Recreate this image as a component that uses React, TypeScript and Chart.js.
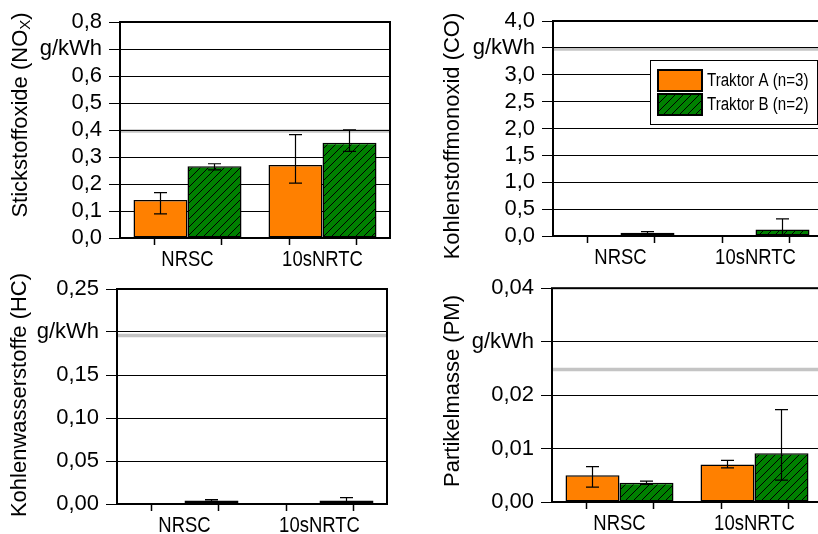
import React, { useEffect, useRef } from 'react';
import { Chart, registerables } from 'chart.js';

Chart.register(...registerables);

// ---------- data ----------
const categories = ['NRSC', '10sNRTC'];
const seriesLabels = ['Traktor A (n=3)', 'Traktor B (n=2)'];

// NOx
const noxA = [0.141, 0.27];
const noxALow = [0.089, 0.203];
const noxAHigh = [0.168, 0.383];
const noxB = [0.266, 0.353];
const noxBLow = [0.252, 0.321];
const noxBHigh = [0.275, 0.401];
const noxTicks = [0, 0.1, 0.2, 0.3, 0.4, 0.5, 0.6, 0.7, 0.8];
const noxUnitTick = 0.7;
const noxLimit = 0.4;

// CO
const coA = [0.005, 0.02];
const coALow = [0.005, 0.02];
const coAHigh = [0.005, 0.02];
const coB = [0.06, 0.12];
const coBLow = [0.045, 0.0];
const coBHigh = [0.08, 0.32];
const coTicks = [0, 0.5, 1.0, 1.5, 2.0, 2.5, 3.0, 3.5, 4.0];
const coUnitTick = 3.5;
const coLimit = 3.5;

// HC
const hcA = [0.0005, 0.0003];
const hcALow = [0.0005, 0.0003];
const hcAHigh = [0.0005, 0.0003];
const hcB = [0.004, 0.004];
const hcBLow = [0.003, 0.001];
const hcBHigh = [0.005, 0.0073];
const hcTicks = [0, 0.05, 0.1, 0.15, 0.2, 0.25];
const hcUnitTick = 0.2;
const hcLimit = 0.197;

// PM
const pmA = [0.005, 0.007];
const pmALow = [0.0028, 0.0064];
const pmAHigh = [0.0066, 0.0078];
const pmB = [0.0036, 0.0091];
const pmBLow = [0.0033, 0.0041];
const pmBHigh = [0.0039, 0.0173];
const pmTicks = [0, 0.01, 0.02, 0.03, 0.04];
const pmUnitTick = 0.03;
const pmLimit = 0.025;

// ---------- styles ----------
const ORANGE = '#ff8000';
const GREEN = '#008000';
const LIMIT_GREY = '#c4c4c4';
const SANS = "'Liberation Sans', Arial, sans-serif";
const CONDENSE = 0.84;

type TitlePart = { text: string; sub?: boolean };
type Panel = {
  key: string;
  title: TitlePart[];
  titleX: number;
  titleY: number;
  a: number[]; aLow: number[]; aHigh: number[];
  b: number[]; bLow: number[]; bHigh: number[];
  ticks: number[];
  decimals: number;
  unitTick: number;
  limit: number;
  left: number; top: number; width: number; height: number;
  area: { l: number; t: number; r: number; b: number };
  legend: boolean;
};

const panels: Panel[] = [
  {
    key: 'nox',
    title: [{ text: 'Stickstoffoxide (NO' }, { text: 'X', sub: true }, { text: ')' }],
    titleX: 21, titleY: 115,
    a: noxA, aLow: noxALow, aHigh: noxAHigh, b: noxB, bLow: noxBLow, bHigh: noxBHigh,
    ticks: noxTicks, decimals: 1, unitTick: noxUnitTick, limit: noxLimit,
    left: 0, top: 0, width: 410, height: 268,
    area: { l: 120, t: 22, r: 390, b: 238 }, legend: false,
  },
  {
    key: 'co',
    title: [{ text: 'Kohlenstoffmonoxid (CO)' }],
    titleX: 43, titleY: 136,
    a: coA, aLow: coALow, aHigh: coAHigh, b: coB, bLow: coBLow, bHigh: coBHigh,
    ticks: coTicks, decimals: 1, unitTick: coUnitTick, limit: coLimit,
    left: 410, top: 0, width: 430, height: 268,
    area: { l: 143, t: 21, r: 413, b: 236 }, legend: true,
  },
  {
    key: 'hc',
    title: [{ text: 'Kohlenwasserstoffe (HC)' }],
    titleX: 20, titleY: 127,
    a: hcA, aLow: hcALow, aHigh: hcAHigh, b: hcB, bLow: hcBLow, bHigh: hcBHigh,
    ticks: hcTicks, decimals: 2, unitTick: hcUnitTick, limit: hcLimit,
    left: 0, top: 268, width: 410, height: 266,
    area: { l: 117, t: 21, r: 387, b: 236 }, legend: false,
  },
  {
    key: 'pm',
    title: [{ text: 'Partikelmasse (PM)' }],
    titleX: 43, titleY: 123,
    a: pmA, aLow: pmALow, aHigh: pmAHigh, b: pmB, bLow: pmBLow, bHigh: pmBHigh,
    ticks: pmTicks, decimals: 2, unitTick: pmUnitTick, limit: pmLimit,
    left: 410, top: 268, width: 430, height: 266,
    area: { l: 142, t: 18, r: 412, b: 234 }, legend: false,
  },
];

function makeHatch(color: string): CanvasPattern | string {
  const s = 8;
  const c = document.createElement('canvas');
  c.width = s;
  c.height = s;
  const g = c.getContext('2d');
  if (!g) return color;
  g.fillStyle = color;
  g.fillRect(0, 0, s, s);
  g.strokeStyle = '#000';
  g.lineWidth = 1;
  g.beginPath();
  g.moveTo(0, s); g.lineTo(s, 0);
  g.moveTo(-s / 2, s / 2); g.lineTo(s / 2, -s / 2);
  g.moveTo(s / 2, s * 1.5); g.lineTo(s * 1.5, s / 2);
  g.stroke();
  return g.createPattern(c, 'repeat') || color;
}

function makePlugin(p: Panel) {
  return {
    id: 'deco_' + p.key,
    beforeDraw(chart: any) {
      const { ctx, chartArea } = chart;
      const y = chart.scales.y.getPixelForValue(p.limit);
      ctx.save();
      ctx.strokeStyle = LIMIT_GREY;
      ctx.lineWidth = 3.5;
      ctx.beginPath();
      ctx.moveTo(chartArea.left, y + 1);
      ctx.lineTo(chartArea.right, y + 1);
      ctx.stroke();
      ctx.restore();
    },
    afterDatasetsDraw(chart: any) {
      const { ctx, chartArea } = chart;
      const ys = chart.scales.y;
      const xs = chart.scales.x;
      ctx.save();
      ctx.beginPath();
      ctx.rect(chartArea.left, chartArea.top - 2, chartArea.right - chartArea.left, chartArea.bottom - chartArea.top + 2);
      ctx.clip();
      ctx.strokeStyle = '#000';
      ctx.lineWidth = 1.2;
      chart.data.datasets.forEach((ds: any, di: number) => {
        const meta = chart.getDatasetMeta(di);
        meta.data.forEach((bar: any, i: number) => {
          const lo = ds.errLow[i];
          const hi = ds.errHigh[i];
          if (hi === lo) return;
          const x = bar.x;
          const yl = ys.getPixelForValue(lo);
          const yh = ys.getPixelForValue(hi);
          ctx.beginPath();
          ctx.moveTo(x, yl); ctx.lineTo(x, yh);
          ctx.moveTo(x - 6.5, yl); ctx.lineTo(x + 6.5, yl);
          ctx.moveTo(x - 6.5, yh); ctx.lineTo(x + 6.5, yh);
          ctx.stroke();
        });
      });
      ctx.restore();

      // frame
      ctx.save();
      ctx.strokeStyle = '#000';
      ctx.lineWidth = 2;
      ctx.strokeRect(chartArea.left, chartArea.top, chartArea.right - chartArea.left, chartArea.bottom - chartArea.top);
      // small x tick marks
      ctx.lineWidth = 1.5;
      ctx.beginPath();
      categories.forEach((_, i) => {
        [i - 0.25, i + 0.25].forEach((v) => {
          const x = Math.round(xs.getPixelForValue(v)) + 0.5;
          ctx.moveTo(x, chartArea.bottom);
          ctx.lineTo(x, chartArea.bottom + 7);
        });
      });
      ctx.stroke();
      ctx.restore();
    },
    afterDraw(chart: any) {
      const { ctx, chartArea } = chart;
      const xs = chart.scales.x;
      // category labels (condensed)
      ctx.save();
      ctx.fillStyle = '#000';
      ctx.font = `22px ${SANS}`;
      ctx.textAlign = 'center';
      ctx.textBaseline = 'alphabetic';
      categories.forEach((c, i) => {
        ctx.save();
        ctx.translate(xs.getPixelForValue(i), chartArea.bottom + 28);
        ctx.scale(CONDENSE, 1);
        ctx.fillText(c, 0, 0);
        ctx.restore();
      });
      ctx.restore();

      // y-axis title (rotated, with optional subscript)
      ctx.save();
      ctx.translate(p.titleX, p.titleY);
      ctx.rotate(-Math.PI / 2);
      ctx.fillStyle = '#000';
      ctx.textBaseline = 'middle';
      ctx.textAlign = 'left';
      const mainFont = `22px ${SANS}`;
      const subFont = `15px ${SANS}`;
      let total = 0;
      p.title.forEach((t) => {
        ctx.font = t.sub ? subFont : mainFont;
        total += ctx.measureText(t.text).width;
      });
      let cx = -total / 2;
      p.title.forEach((t) => {
        ctx.font = t.sub ? subFont : mainFont;
        ctx.fillText(t.text, cx, t.sub ? 5 : 0);
        cx += ctx.measureText(t.text).width;
      });
      ctx.restore();

      if (p.legend) {
        const lx = chartArea.left + 97;
        const ly = chartArea.top + 39;
        ctx.save();
        ctx.fillStyle = '#fff';
        ctx.fillRect(lx, ly, 167, 64);
        ctx.strokeStyle = '#000';
        ctx.lineWidth = 1;
        ctx.strokeRect(lx + 0.5, ly + 0.5, 167, 64);
        chart.data.datasets.forEach((ds: any, di: number) => {
          const sy = ly + 10 + di * 24;
          ctx.fillStyle = ds.backgroundColor;
          ctx.fillRect(lx + 8, sy, 44, 21);
          ctx.lineWidth = 2;
          ctx.strokeRect(lx + 8, sy, 44, 21);
          ctx.fillStyle = '#000';
          ctx.font = `18px ${SANS}`;
          ctx.textBaseline = 'middle';
          ctx.textAlign = 'left';
          ctx.save();
          ctx.translate(lx + 57, sy + 11);
          ctx.scale(CONDENSE, 1);
          ctx.fillText(ds.label, 0, 0);
          ctx.restore();
        });
        ctx.restore();
      }
    },
  };
}

function ChartPanel({ p }: { p: Panel }) {
  const ref = useRef<HTMLCanvasElement | null>(null);
  useEffect(() => {
    const canvas = ref.current;
    if (!canvas) return;
    const hatch = makeHatch(GREEN);
    const fmt = (v: number) =>
      Math.abs(v - p.unitTick) < 1e-9 ? 'g/kWh' : v.toFixed(p.decimals).replace('.', ',');
    const chart = new Chart(canvas, {
      type: 'bar',
      data: {
        labels: categories,
        datasets: [
          {
            label: seriesLabels[0],
            data: p.a,
            errLow: p.aLow,
            errHigh: p.aHigh,
            backgroundColor: ORANGE,
            borderColor: '#000',
            borderWidth: 1.5,
            borderSkipped: false,
            categoryPercentage: 0.8,
            barPercentage: 1,
          } as any,
          {
            label: seriesLabels[1],
            data: p.b,
            errLow: p.bLow,
            errHigh: p.bHigh,
            backgroundColor: hatch,
            borderColor: '#000',
            borderWidth: 1.5,
            borderSkipped: false,
            categoryPercentage: 0.8,
            barPercentage: 1,
          } as any,
        ],
      },
      options: {
        responsive: false,
        animation: false,
        layout: { padding: { left: 0, top: p.area.t, right: p.width - p.area.r, bottom: 0 } },
        plugins: { legend: { display: false }, tooltip: { enabled: false } },
        scales: {
          x: {
            type: 'category',
            offset: true,
            grid: { display: false, drawTicks: false },
            border: { display: false },
            ticks: { display: false },
            afterFit: (s: any) => {
              s.height = p.height - p.area.b;
            },
          },
          y: {
            type: 'linear',
            min: p.ticks[0],
            max: p.ticks[p.ticks.length - 1],
            grid: { color: '#000', lineWidth: 1, tickLength: 11, tickColor: '#000' },
            border: { display: false },
            ticks: {
              font: { family: SANS, size: 22 },
              color: '#000',
              padding: 7,
              autoSkip: false,
              callback: (v: any) => fmt(Number(v)),
            },
            afterBuildTicks: (s: any) => {
              s.ticks = p.ticks.map((v) => ({ value: v }));
            },
            afterFit: (s: any) => {
              s.width = p.area.l;
            },
          },
        },
      } as any,
      plugins: [makePlugin(p)],
    });
    return () => chart.destroy();
  }, []);
  return (
    <canvas
      ref={ref}
      width={p.width}
      height={p.height}
      style={{ position: 'absolute', left: p.left, top: p.top, width: p.width, height: p.height }}
    />
  );
}

export default function App() {
  return (
    <div
      style={{
        position: 'fixed',
        left: 0,
        top: 0,
        width: 818,
        height: 534,
        overflow: 'hidden',
        background: '#fff',
      }}
    >
      {panels.map((p) => (
        <ChartPanel key={p.key} p={p} />
      ))}
    </div>
  );
}
